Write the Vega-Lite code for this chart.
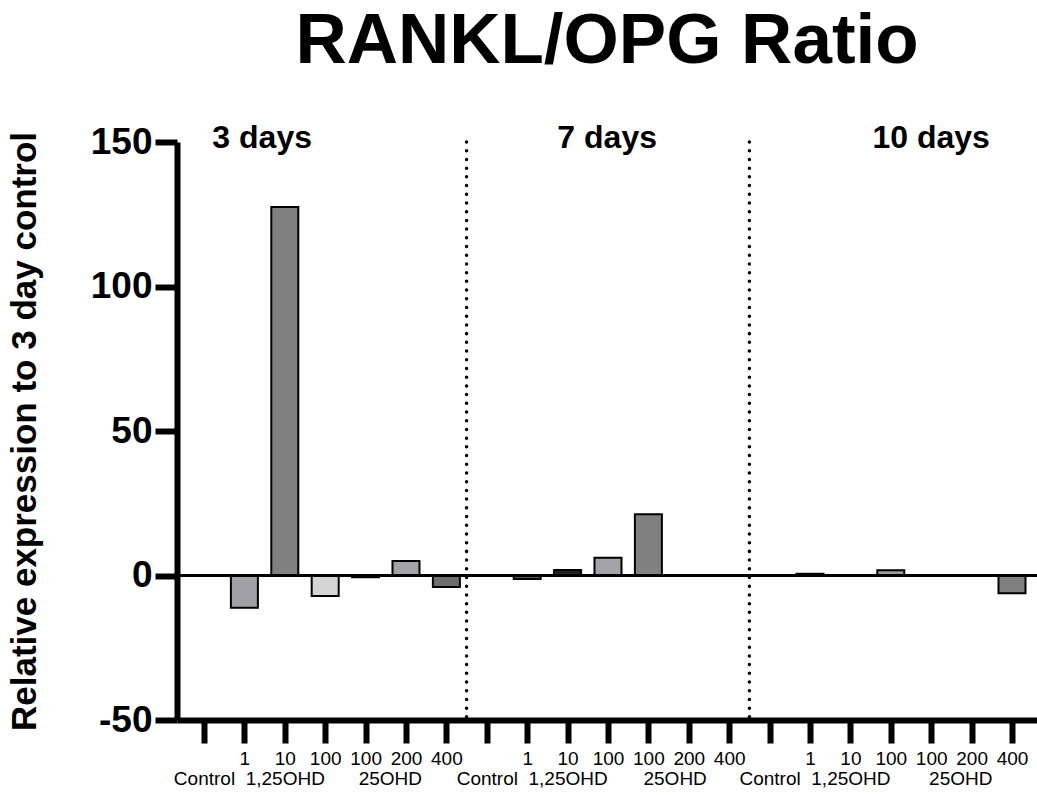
{
  "$schema": "https://vega.github.io/schema/vega-lite/v6.json",
  "autosize": "none",
  "width": 860,
  "height": 578,
  "padding": {"left": 177, "top": 142, "right": 0, "bottom": 75},
  "background": "white",
  "config": {"view": {"stroke": null}, "font": "Liberation Sans"},
  "title": {
    "text": "RANKL/OPG Ratio",
    "font": "Liberation Sans",
    "fontSize": 71,
    "fontWeight": "bold",
    "color": "black",
    "anchor": "middle",
    "baseline": "alphabetic",
    "offset": -12
  },
  "layer": [
    {
      "data": {"values": [
        {"day": "3 days", "cond": "Control", "slot": 1, "value": 0},
        {"day": "3 days", "cond": "1 1,25OHD", "slot": 2, "value": -11.2},
        {"day": "3 days", "cond": "10 1,25OHD", "slot": 3, "value": 127.5},
        {"day": "3 days", "cond": "100 1,25OHD", "slot": 4, "value": -7.1},
        {"day": "3 days", "cond": "100 25OHD", "slot": 5, "value": -0.6},
        {"day": "3 days", "cond": "200 25OHD", "slot": 6, "value": 5.0},
        {"day": "3 days", "cond": "400 25OHD", "slot": 7, "value": -4.0},
        {"day": "7 days", "cond": "Control", "slot": 8, "value": 0},
        {"day": "7 days", "cond": "1 1,25OHD", "slot": 9, "value": -1.2},
        {"day": "7 days", "cond": "10 1,25OHD", "slot": 10, "value": 1.9},
        {"day": "7 days", "cond": "100 1,25OHD", "slot": 11, "value": 6.1},
        {"day": "7 days", "cond": "100 25OHD", "slot": 12, "value": 21.2},
        {"day": "7 days", "cond": "200 25OHD", "slot": 13, "value": 0},
        {"day": "7 days", "cond": "400 25OHD", "slot": 14, "value": 0},
        {"day": "10 days", "cond": "Control", "slot": 15, "value": 0},
        {"day": "10 days", "cond": "1 1,25OHD", "slot": 16, "value": 0.6},
        {"day": "10 days", "cond": "10 1,25OHD", "slot": 17, "value": 0},
        {"day": "10 days", "cond": "100 1,25OHD", "slot": 18, "value": 1.8},
        {"day": "10 days", "cond": "100 25OHD", "slot": 19, "value": 0},
        {"day": "10 days", "cond": "200 25OHD", "slot": 20, "value": 0},
        {"day": "10 days", "cond": "400 25OHD", "slot": 21, "value": -6.1}
      ]},
      "mark": {"type": "bar", "size": 27, "stroke": "black", "strokeWidth": 2},
      "encoding": {
        "x": {
          "field": "slot",
          "type": "quantitative",
          "scale": {"domain": [0.332, 21.619], "nice": false, "zero": false, "padding": 0},
          "axis": {
            "title": null,
            "grid": false,
            "tickCount": 100,
            "values": [1,2,3,4,5,5.6,6,7,8,9,10,11,12,12.65,13,14,15,16,17,18,19,19.72,20,21],
            "domainColor": "black",
            "domainWidth": 6,
            "tickColor": "black",
            "tickWidth": 6,
            "tickSize": 23,
            "tickOpacity": {"condition": {"test": "datum.value % 1 != 0", "value": 0}, "value": 1},
            "labelFont": "Liberation Sans",
            "labelFontSize": 19,
            "labelColor": "black",
            "labelPadding": 6,
            "labelLineHeight": 20,
            "labelOverlap": false,
            "labelBound": false,
            "labelFlush": false,
            "labelExpr": "datum.value % 1 != 0 ? ['', '25OHD'] : (datum.value - 1) % 7 == 0 ? ['', 'Control'] : (datum.value - 1) % 7 == 2 ? ['10', '1,25OHD'] : ['', '1', '10', '100', '100', '200', '400'][(datum.value - 1) % 7]"
          }
        },
        "y": {
          "field": "value",
          "type": "quantitative",
          "scale": {"domain": [-50, 150], "nice": false},
          "axis": {
            "title": "Relative expression to 3 day control",
            "titleFont": "Liberation Sans",
            "titleFontSize": 35,
            "titleFontWeight": "bold",
            "titleColor": "black",
            "titlePadding": 48,
            "grid": false,
            "values": [-50, 0, 50, 100, 150],
            "tickCount": 100,
            "domainColor": "black",
            "domainWidth": 6,
            "tickColor": "black",
            "tickWidth": 6,
            "tickSize": 22,
            "labelFont": "Liberation Sans",
            "labelFontSize": 37,
            "labelFontWeight": "bold",
            "labelColor": "black",
            "labelPadding": 3,
            "labelExpr": "'' + datum.value"
          }
        },
        "color": {
          "field": "slot",
          "type": "ordinal",
          "legend": null,
          "scale": {
            "domain": [1,2,3,4,5,6,7,8,9,10,11,12,13,14,15,16,17,18,19,20,21],
            "range": ["#808080", "#a0a0a6", "#808080", "#d5d5d5", "#555555", "#a3a3a8", "#6e6e6e",
                      "#808080", "#555555", "#222222", "#a3a3a8", "#808080", "#808080", "#808080",
                      "#808080", "#333333", "#808080", "#9a9a9f", "#808080", "#808080", "#808080"]
          }
        }
      }
    },
    {
      "data": {"values": [{}]},
      "mark": {"type": "rule", "color": "black", "strokeWidth": 3},
      "encoding": {"y": {"datum": 0}}
    },
    {
      "data": {"values": [{"sep": 7.5}, {"sep": 14.5}]},
      "mark": {"type": "rule", "color": "black", "strokeWidth": 3.5, "strokeCap": "round", "strokeDash": [0.01, 8.7]},
      "encoding": {"x": {"field": "sep", "type": "quantitative"}}
    },
    {
      "data": {"values": [{}]},
      "mark": {"type": "text", "text": "3 days", "font": "Liberation Sans", "fontSize": 32, "fontWeight": "bold", "color": "black", "baseline": "alphabetic", "align": "center", "dy": 6},
      "encoding": {"x": {"datum": 2.44}, "y": {"datum": 150}}
    },
    {
      "data": {"values": [{}]},
      "mark": {"type": "text", "text": "7 days", "font": "Liberation Sans", "fontSize": 32, "fontWeight": "bold", "color": "black", "baseline": "alphabetic", "align": "center", "dy": 6},
      "encoding": {"x": {"datum": 10.98}, "y": {"datum": 150}}
    },
    {
      "data": {"values": [{}]},
      "mark": {"type": "text", "text": "10 days", "font": "Liberation Sans", "fontSize": 32, "fontWeight": "bold", "color": "black", "baseline": "alphabetic", "align": "center", "dy": 6},
      "encoding": {"x": {"datum": 19.0}, "y": {"datum": 150}}
    }
  ]
}
